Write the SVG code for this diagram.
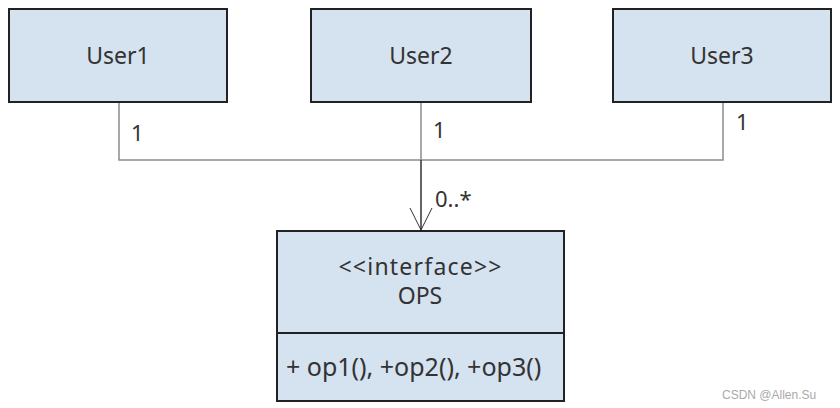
<svg xmlns="http://www.w3.org/2000/svg" width="840" height="408" viewBox="0 0 840 408">
<style>
.box{fill:#d5e2f0;stroke:#222;stroke-width:2}
.t{font-family:"Noto Sans","Open Sans",sans-serif;font-size:23px;fill:#333;text-anchor:middle}
.m{font-family:"Noto Sans","Open Sans",sans-serif;font-size:22px;fill:#333}
.c{fill:none;stroke:#8c8c8c;stroke-width:1.5}
</style>
<rect width="840" height="408" fill="#fff"/>
<g id="connectors">
<polyline class="c" points="119,102 119,160 723,160 723,102"/>
<line class="c" x1="421" y1="102" x2="421" y2="160"/>
<line x1="421" y1="160" x2="421" y2="230" stroke="#333" stroke-width="1.5"/>
<polyline points="410,208 421,230 432,208" fill="none" stroke="#333" stroke-width="1"/>
<text class="m" x="131" y="141">1</text>
<text class="m" x="433" y="138">1</text>
<text class="m" x="736" y="130">1</text>
<text class="m" x="435" y="207">0..*</text>
</g>
<g id="User1">
<rect class="box" x="9" y="9" width="218" height="93"/>
<text class="t" x="118" y="64">User1</text>
</g>
<g id="User2">
<rect class="box" x="311" y="9" width="220" height="93"/>
<text class="t" x="421" y="64">User2</text>
</g>
<g id="User3">
<rect class="box" x="613" y="9" width="218" height="93"/>
<text class="t" x="722" y="64">User3</text>
</g>
<g id="OPS">
<rect class="box" x="277" y="231" width="287" height="170"/>
<line x1="277" y1="333" x2="564" y2="333" stroke="#222" stroke-width="2"/>
<text class="t" x="420" y="275" textLength="163" lengthAdjust="spacing">&lt;&lt;interface&gt;&gt;</text>
<text class="t" x="420" y="304">OPS</text>
<text class="m" x="286" y="376" style="font-size:25px">+ op1(), +op2(), +op3()</text>
</g>
<text x="722" y="399" font-family="Liberation Sans, sans-serif" font-size="12" fill="#aaa">CSDN @Allen.Su</text>
</svg>
